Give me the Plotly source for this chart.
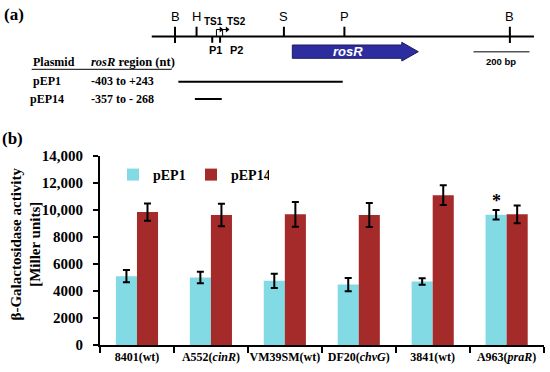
import plotly.graph_objects as go

# ---------------- data: panel (b) ----------------
strains = ["8401(wt)", "A552(cinR)", "VM39SM(wt)", "DF20(chvG)", "3841(wt)", "A963(praR)"]
strain_labels = ["8401(wt)", "A552(<i>cinR</i>)", "VM39SM(wt)", "DF20(<i>chvG</i>)",
                 "3841(wt)", "A963(<i>praR</i>)"]
pEP1_vals = [5100, 5000, 4750, 4480, 4700, 9650]
pEP1_err = [450, 430, 530, 490, 240, 350]
pEP14_vals = [9850, 9630, 9680, 9630, 11100, 9680]
pEP14_err = [640, 840, 920, 890, 730, 660]
ytick_vals = [0, 2000, 4000, 6000, 8000, 10000, 12000, 14000]
ytick_text = ["0", "2000", "4000", "6000", "8000", "10,000", "12,000", "14,000"]

# ---------------- data: panel (a) map (bp along the map) ----------------
track_span = [-83, 1282]
site_names = ["B", "H", "S", "P", "B"]
site_pos = [0, 77, 389, 605, 1196]
site_cross = [True, False, False, False, True]
promoter_names = ["P1", "P2"]
promoter_pos = [133, 161]
ts_names = ["TS1", "TS2"]
ts_pos = [148, 170]
rosR_start, rosR_end, rosR_head = 419, 869, 59
scale_bar = [1066, 1266]
constructs = ["pEP1", "pEP14"]
construct_regions = ["-403 to +243", "-357 to - 268"]
construct_start = [12, 71]
construct_end = [599, 167]

W, H = 550, 372
SERIF = "Liberation Serif"
SANS = "Liberation Sans"
CYAN = "#82dae5"
RED = "#a52a2a"
BLUE = "#2d2d9f"


def px(x):
    return x / W


def py(y):
    return 1 - y / H


fig = go.Figure()

# bars
fig.add_trace(go.Bar(x=strains, y=pEP1_vals, name="pEP1", marker=dict(color=CYAN, line=dict(width=0)),
                     error_y=dict(type="data", array=pEP1_err, color="black", thickness=2, width=3.5)))
fig.add_trace(go.Bar(x=strains, y=pEP14_vals, name="pEP14", marker=dict(color=RED, line=dict(width=0)),
                     error_y=dict(type="data", array=pEP14_err, color="black", thickness=2, width=3.5)))

# ---- map (panel a) on x2/y2 ----
TRACK_Y = 36.5
common = dict(xaxis="x2", yaxis="y2", showlegend=False, hoverinfo="skip")
fig.add_trace(go.Scatter(x=track_span, y=[TRACK_Y, TRACK_Y], mode="lines",
                         line=dict(color="black", width=2), **common))
tx, ty = [], []
for p, c in zip(site_pos, site_cross):
    tx += [p, p, None]
    ty += [26.7, 43 if c else TRACK_Y, None]
for p in promoter_pos:
    tx += [p, p, None]
    ty += [TRACK_Y, 42.7, None]
fig.add_trace(go.Scatter(x=tx, y=ty, mode="lines", line=dict(color="black", width=2), **common))
# transcription start arrows
for p in ts_pos:
    fig.add_trace(go.Scatter(x=[p, p, p + 14], y=[TRACK_Y, 29.5, 29.5], mode="lines",
                             line=dict(color="black", width=1), **common))
    fig.add_trace(go.Scatter(x=[p + 16], y=[29.5], mode="markers",
                             marker=dict(symbol="triangle-right", size=5, color="black"), **common))
# rosR arrow
hs = rosR_end - rosR_head
fig.add_trace(go.Scatter(x=[rosR_start, hs, hs, rosR_end, hs, hs, rosR_start, rosR_start],
                         y=[45, 45, 42.3, 51.7, 61, 58.3, 58.3, 45], mode="lines", fill="toself",
                         fillcolor=BLUE, line=dict(color="#1a1a60", width=1), **common))
# scale bar
fig.add_trace(go.Scatter(x=scale_bar, y=[51.7, 51.7], mode="lines",
                         line=dict(color="#555555", width=1.5), **common))
# construct lines
for s, e, yy in zip(construct_start, construct_end, [81.7, 99]):
    fig.add_trace(go.Scatter(x=[s, e], y=[yy, yy], mode="lines",
                             line=dict(color="black", width=2), **common))

ann = []
for n, p in zip(site_names, site_pos):
    ann.append(dict(x=p, y=16.5, xref="x2", yref="y2", text=n, showarrow=False, xanchor="center",
                    font=dict(family=SANS, size=13, color="black")))
for n, p in zip(ts_names, ts_pos):
    ann.append(dict(x=p - 10 if n == "TS1" else p + 51, y=21.5, xref="x2", yref="y2", text="<b>%s</b>" % n,
                    showarrow=False, xanchor="center", font=dict(family=SANS, size=10, color="black")))
for n, p in zip(promoter_names, promoter_pos):
    ann.append(dict(x=p + 12 if n == "P1" else p + 59, y=49.5, xref="x2", yref="y2", text="<b>%s</b>" % n,
                    showarrow=False, xanchor="center", font=dict(family=SANS, size=11, color="black")))
ann.append(dict(x=(rosR_start + hs) / 2 + 4, y=51.7, xref="x2", yref="y2", text="<b><i>rosR</i></b>",
                showarrow=False, xanchor="center", font=dict(family=SANS, size=13, color="white")))
ann.append(dict(x=sum(scale_bar) / 2, y=61.5, xref="x2", yref="y2", text="<b>200 bp</b>",
                showarrow=False, xanchor="center", font=dict(family=SANS, size=9.5, color="black")))

# table text
ann.append(dict(x=px(31), y=py(62), xref="paper", yref="paper", xanchor="left", yanchor="middle",
                text="<b>Plasmid</b>", showarrow=False, font=dict(family=SERIF, size=12, color="black")))
ann.append(dict(x=px(89), y=py(62), xref="paper", yref="paper", xanchor="left", yanchor="middle",
                text="<b><i>rosR</i> region (nt)</b>",
                showarrow=False, font=dict(family=SERIF, size=12.5, color="black")))
for c, r, yy in zip(constructs, construct_regions, [81, 99]):
    ann.append(dict(x=px(47), y=py(yy), xref="paper", yref="paper", text="<b>%s</b>" % c, xanchor="center",
                    yanchor="middle", showarrow=False, font=dict(family=SERIF, size=12, color="black")))
    ann.append(dict(x=px(89), y=py(yy), xref="paper", yref="paper", xanchor="left", yanchor="middle",
                    text="<b>%s</b>" % r, showarrow=False, font=dict(family=SERIF, size=12, color="black")))

ann.append(dict(x=px(2), y=py(15), xref="paper", yref="paper", xanchor="left", yanchor="middle",
                text="<b>(a)</b>", showarrow=False, font=dict(family=SERIF, size=17, color="black")))
ann.append(dict(x=px(0), y=py(138), xref="paper", yref="paper", xanchor="left", yanchor="middle",
                text="<b>(b)</b>", showarrow=False, font=dict(family=SERIF, size=17, color="black")))
ann.append(dict(x=px(25.5), y=py(244), xref="paper", yref="paper", textangle=-90, xanchor="center",
                yanchor="middle", text="<b>β-Galactosidase activity<br>[Miller units]</b>",
                showarrow=False, font=dict(family=SERIF, size=15, color="black")))
# significance asterisk
ann.append(dict(x=5 - 0.14, y=pEP1_vals[5] + pEP1_err[5], xref="x", yref="y", yanchor="bottom",
                xanchor="center", text="<b>*</b>", showarrow=False, yshift=-3,
                font=dict(family=SERIF, size=18, color="black")))

tick_font = dict(family=SERIF, size=15, color="black", weight="bold")
fig.update_layout(
    width=W, height=H,
    margin=dict(l=0, r=0, t=0, b=0, autoexpand=False),
    paper_bgcolor="white", plot_bgcolor="white",
    barmode="group", bargap=0.43, bargroupgap=0,
    showlegend=True,
    legend=dict(orientation="h", x=px(113), y=py(175), xanchor="left", yanchor="middle",
                font=dict(family=SERIF, size=14, color="black", weight="bold"),
                entrywidth=33, entrywidthmode="pixels", bgcolor="rgba(0,0,0,0)", traceorder="normal"),
    xaxis=dict(domain=[px(100), px(543.6)], anchor="y", showline=True, linecolor="black", linewidth=2,
               ticks="outside", tickson="boundaries", ticklen=6, tickwidth=1.5, tickcolor="black",
               tickvals=strains, ticktext=strain_labels, showgrid=False, tickangle=0, automargin=False,
               tickfont=dict(family=SERIF, size=12, color="black", weight="bold")),
    yaxis=dict(domain=[py(345), py(156)], anchor="x", range=[0, 14000], showline=True, linecolor="black",
               linewidth=2, ticks="outside", ticklen=5, tickwidth=1.5, tickcolor="black",
               tickvals=ytick_vals, ticktext=ytick_text, showgrid=False, zeroline=False,
               tickfont=tick_font, ticklabelstandoff=7, automargin=False),
    xaxis2=dict(domain=[0, 1], range=[-625, 1339.3], anchor="y2", visible=False, fixedrange=True,
                automargin=False),
    yaxis2=dict(domain=[0.6, 1], range=[148.8, 0], anchor="x2", visible=False, fixedrange=True,
                automargin=False),
    annotations=ann,
)
# header rule of the table
fig.add_shape(type="line", xref="paper", yref="paper", x0=px(31.7), x1=px(171.7), y0=py(69.3), y1=py(69.3),
              line=dict(color="black", width=1))

fig.write_html("out.html", config={"displayModeBar": False},
               post_script="document.body.style.margin='0';document.body.style.overflow='hidden';")
